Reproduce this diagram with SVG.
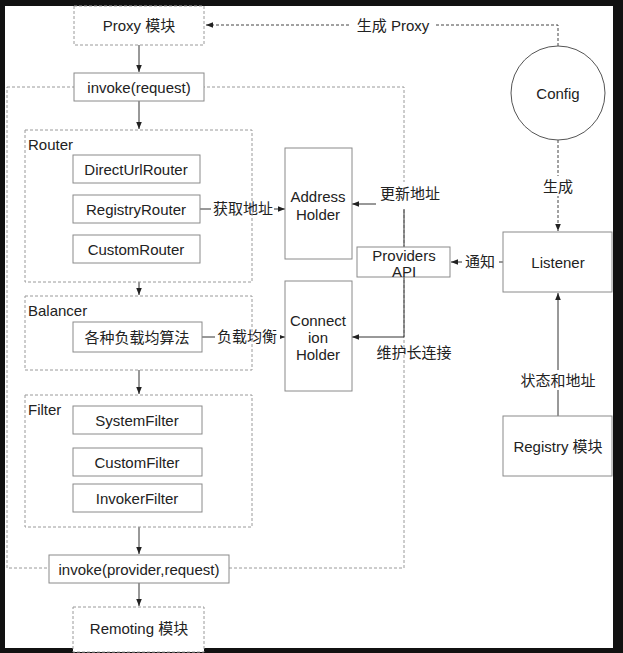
<svg xmlns="http://www.w3.org/2000/svg" width="623" height="653" viewBox="0 0 623 653">
<style>
text{font-family:"Liberation Sans","Noto Sans CJK SC",sans-serif;font-size:15px;fill:#222;text-anchor:middle;dominant-baseline:central}
.lbl{text-anchor:start}
.box{fill:#fff;stroke:#8a8a8a;stroke-width:1}
.dbox{fill:none;stroke:#9a9a9a;stroke-width:1;stroke-dasharray:3,2}
.dboxw{fill:#fff;stroke:#9a9a9a;stroke-width:1;stroke-dasharray:3,2}
.ln{fill:none;stroke:#333;stroke-width:1}
.dl{fill:none;stroke:#444;stroke-width:1;stroke-dasharray:3,2}
.bg{fill:#fff}
</style>
<defs>
<marker id="ah" viewBox="0 0 8 8" refX="8" refY="4" markerWidth="7" markerHeight="7" markerUnits="userSpaceOnUse" orient="auto">
<path d="M0,0.8 L8,4 L0,7.2 z" fill="#222"/>
</marker>
</defs>
<rect x="0" y="0" width="623" height="653" fill="#111"/>
<rect x="5" y="6" width="608" height="642" fill="#fff"/>

<g id="container">
<rect class="dbox" x="7" y="87" width="397" height="481"/>
</g>

<g id="connectors">
<path class="dl" d="M558,46 V25 H206" marker-end="url(#ah)"/>
<path class="dl" d="M558,140 V231" marker-end="url(#ah)"/>
<path class="ln" d="M139,45 V72" marker-end="url(#ah)"/>
<path class="ln" d="M139,101 V129" marker-end="url(#ah)"/>
<path class="ln" d="M139,282 V295" marker-end="url(#ah)"/>
<path class="ln" d="M139,370 V394" marker-end="url(#ah)"/>
<path class="ln" d="M139,527 V554" marker-end="url(#ah)"/>
<path class="ln" d="M139,583 V606" marker-end="url(#ah)"/>
<path class="ln" d="M200,209 H285" marker-end="url(#ah)"/>
<path class="ln" d="M202,337 H285" marker-end="url(#ah)"/>
<path class="ln" d="M404,247 V204 H352" marker-end="url(#ah)"/>
<path class="ln" d="M404,277 V337 H352" marker-end="url(#ah)"/>
<path class="ln" d="M503,262 H451" marker-end="url(#ah)"/>
<path class="ln" d="M558,416 V293" marker-end="url(#ah)"/>
</g>

<g id="labels">
<rect class="bg" x="350" y="16" width="86" height="18"/>
<text x="393" y="25">生成 Proxy</text>
<rect class="bg" x="540" y="176" width="36" height="20"/>
<text x="558" y="186">生成</text>
<rect class="bg" x="211" y="199" width="63" height="20"/>
<text x="243" y="208">获取地址</text>
<rect class="bg" x="215" y="327" width="65" height="20"/>
<text x="247" y="336">负载均衡</text>
<rect class="bg" x="376" y="182" width="68" height="27"/>
<text x="410" y="193">更新地址</text>
<text x="414" y="352">维护长连接</text>
<rect class="bg" x="462" y="252" width="37" height="20"/>
<text x="480" y="261">通知</text>
<rect class="bg" x="518" y="370" width="80" height="20"/>
<text x="558" y="380">状态和地址</text>
</g>

<g id="proxy"><rect class="dboxw" x="74" y="6" width="130" height="39"/><text x="139" y="25">Proxy 模块</text></g>
<g id="invoke-request"><rect class="box" x="74" y="73" width="130" height="28"/><text x="139" y="87">invoke(request)</text></g>

<g id="router">
<rect class="dbox" x="25" y="130" width="227" height="152"/>
<text class="lbl" x="28" y="144">Router</text>
</g>
<g id="directurlrouter"><rect class="box" x="73" y="155" width="127" height="28"/><text x="136" y="169">DirectUrlRouter</text></g>
<g id="registryrouter"><rect class="box" x="73" y="195" width="127" height="28"/><text x="136" y="209">RegistryRouter</text></g>
<g id="customrouter"><rect class="box" x="73" y="235" width="127" height="28"/><text x="136" y="249">CustomRouter</text></g>

<g id="balancer">
<rect class="dbox" x="25" y="296" width="227" height="74"/>
<text class="lbl" x="28" y="310">Balancer</text>
</g>
<g id="algorithms"><rect class="box" x="73" y="322" width="129" height="30"/><text x="137" y="337">各种负载均算法</text></g>

<g id="filter">
<rect class="dbox" x="25" y="395" width="227" height="132"/>
<text class="lbl" x="28" y="409">Filter</text>
</g>
<g id="systemfilter"><rect class="box" x="73" y="406" width="129" height="28"/><text x="137" y="420">SystemFilter</text></g>
<g id="customfilter"><rect class="box" x="73" y="448" width="129" height="28"/><text x="137" y="462">CustomFilter</text></g>
<g id="invokerfilter"><rect class="box" x="73" y="484" width="129" height="28"/><text x="137" y="498">InvokerFilter</text></g>

<g id="invoke-provider"><rect class="box" x="49" y="555" width="180" height="28"/><text x="139" y="569">invoke(provider,request)</text></g>
<g id="remoting"><rect class="dboxw" x="73" y="607" width="131" height="45"/><text x="139" y="628">Remoting 模块</text></g>

<g id="address-holder"><rect class="box" x="285" y="148" width="67" height="111"/><text x="318" y="196">Address</text><text x="318" y="214">Holder</text></g>
<g id="connection-holder"><rect class="box" x="285" y="281" width="67" height="110"/><text x="318" y="320">Connect</text><text x="318" y="337">ion</text><text x="318" y="354">Holder</text></g>
<g id="providers-api"><rect class="box" x="357" y="247" width="93" height="30"/><text x="404" y="255">Providers</text><text x="404" y="271">API</text></g>

<g id="config"><circle cx="558" cy="93" r="47" fill="#fff" stroke="#555" stroke-width="1"/><text x="558" y="93">Config</text></g>
<g id="listener"><rect class="box" x="503" y="232" width="109" height="60"/><text x="558" y="262">Listener</text></g>
<g id="registry"><rect class="box" x="503" y="416" width="109" height="60"/><text x="558" y="446">Registry 模块</text></g>
</svg>
